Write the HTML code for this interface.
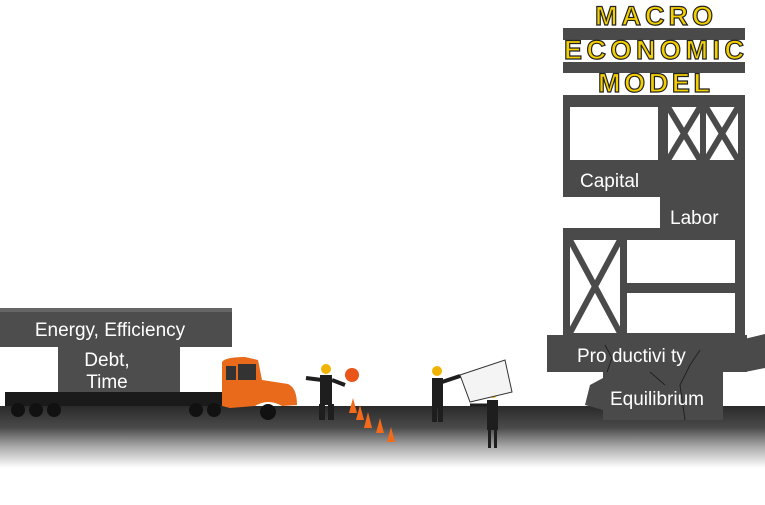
<!DOCTYPE html>
<html><head><style>
html,body{margin:0;padding:0;background:#fff;}
svg{display:block;}
text{font-family:"Liberation Sans",sans-serif;}
</style></head><body>
<svg width="765" height="505" viewBox="0 0 765 505" xmlns="http://www.w3.org/2000/svg">
<defs>
<linearGradient id="road" x1="0" y1="0" x2="0" y2="1">
<stop offset="0" stop-color="#2a2a2a"/>
<stop offset="0.35" stop-color="#4a4a4a"/>
<stop offset="0.65" stop-color="#a8a8a8"/>
<stop offset="1" stop-color="#ffffff"/>
</linearGradient>
</defs>
<rect x="0" y="406" width="765" height="62" fill="url(#road)"/>

<!-- Tower -->
<g fill="#4a4a4a">
<rect x="563" y="28" width="182" height="12"/>
<rect x="563" y="62" width="182" height="11"/>
<rect x="563" y="95" width="182" height="75"/>
<rect x="563" y="160" width="109" height="37"/>
<rect x="660" y="170" width="85" height="58"/>
<rect x="563" y="228" width="182" height="107"/>
<rect x="547" y="335" width="200" height="37"/>
<polygon points="740,340 765,334 765,368 745,372"/>
<rect x="603" y="372" width="120" height="48"/>
<polygon points="590,385 603,378 603,410 585,405"/>
</g>
<g fill="#fff">
<rect x="570" y="107" width="88" height="53"/>
<rect x="668" y="107" width="32" height="53"/>
<rect x="706" y="107" width="32" height="53"/>
<rect x="570" y="240" width="50" height="93"/>
<rect x="627" y="240" width="108" height="43"/>
<rect x="627" y="293" width="108" height="40"/>
</g>
<g stroke="#4a4a4a" stroke-width="6">
<line x1="668" y1="107" x2="700" y2="160"/><line x1="700" y1="107" x2="668" y2="160"/>
<line x1="706" y1="107" x2="738" y2="160"/><line x1="738" y1="107" x2="706" y2="160"/>
<line x1="570" y1="240" x2="620" y2="333"/><line x1="620" y1="240" x2="570" y2="333"/>
</g>
<g stroke="#222" stroke-width="1" fill="none">
<path d="M605 345 L612 358 L607 372"/><path d="M700 350 L690 365 L680 385 L685 420"/><path d="M650 372 L665 385"/>
</g>
<g font-weight="bold" font-size="27" fill="#f5d000" stroke="#222" stroke-width="1.2" text-anchor="middle">
<text x="654" y="25" textLength="118" lengthAdjust="spacing">MACRO</text>
<text x="654" y="59" textLength="180" lengthAdjust="spacing">ECONOMIC</text>
<text x="654" y="92" textLength="112" lengthAdjust="spacing">MODEL</text>
</g>
<g fill="#fff" font-size="19">
<text x="580" y="187">Capital</text>
<text x="670" y="224">Labor</text>
<text x="577" y="362">Pro ductivi ty</text>
<text x="610" y="405">Equilibrium</text>
</g>

<!-- Truck load -->
<rect x="5" y="392" width="225" height="14" fill="#1a1a1a"/>
<rect x="0" y="308" width="232" height="39" fill="#4d4d4d"/>
<rect x="0" y="308" width="232" height="4" fill="#666"/>
<rect x="58" y="347" width="122" height="45" fill="#4d4d4d"/>
<g fill="#fff" font-size="19" text-anchor="middle">
<text x="110" y="336">Energy, Efficiency</text>
<text x="107" y="366">Debt,</text>
<text x="107" y="388">Time</text>
</g>
<g fill="#111">
<circle cx="18" cy="410" r="7"/><circle cx="36" cy="410" r="7"/><circle cx="54" cy="410" r="7"/>
<circle cx="196" cy="410" r="7"/><circle cx="214" cy="410" r="7"/><circle cx="268" cy="412" r="8"/>
</g>
<!-- cab -->
<path d="M222 362 Q225 357 245 357 L258 360 L262 380 L288 384 Q297 388 297 405 L282 406 Q268 398 255 406 L230 408 L222 406 Z" fill="#e86a1a"/>
<rect x="238" y="364" width="18" height="16" fill="#333"/>
<rect x="226" y="366" width="10" height="14" fill="#333"/>

<!-- workers -->
<g fill="#1e1e1e">
<rect x="320" y="375" width="12" height="30"/><rect x="319" y="404" width="6" height="16"/><rect x="328" y="404" width="6" height="16"/>
<line x1="322" y1="380" x2="306" y2="378" stroke="#1e1e1e" stroke-width="4"/>
<line x1="332" y1="380" x2="345" y2="385" stroke="#1e1e1e" stroke-width="4"/>
<rect x="432" y="378" width="11" height="30"/><rect x="432" y="406" width="5" height="16"/><rect x="438" y="406" width="5" height="16"/>
<line x1="442" y1="382" x2="460" y2="376" stroke="#1e1e1e" stroke-width="4"/>
<rect x="487" y="400" width="11" height="30"/><rect x="488" y="428" width="3" height="20"/><rect x="494" y="428" width="3" height="20"/>
<line x1="488" y1="405" x2="470" y2="405" stroke="#1e1e1e" stroke-width="3"/>
</g>
<g fill="#f0b400">
<circle cx="326" cy="369" r="5"/><circle cx="437" cy="371" r="5"/><circle cx="493" cy="393" r="5"/>
</g>
<circle cx="352" cy="375" r="7" fill="#e8541a"/>
<polygon points="460,375 505,360 512,392 470,402" fill="#f4f4f4" stroke="#333" stroke-width="1"/>
<g fill="#f26a1a">
<polygon points="353,398 357,413 349,413"/>
<polygon points="360,405 364,420 356,420"/>
<polygon points="368,412 372,428 364,428"/>
<polygon points="380,418 384,433 376,433"/>
<polygon points="391,427 395,442 387,442"/>
</g>
</svg>
</body></html>
